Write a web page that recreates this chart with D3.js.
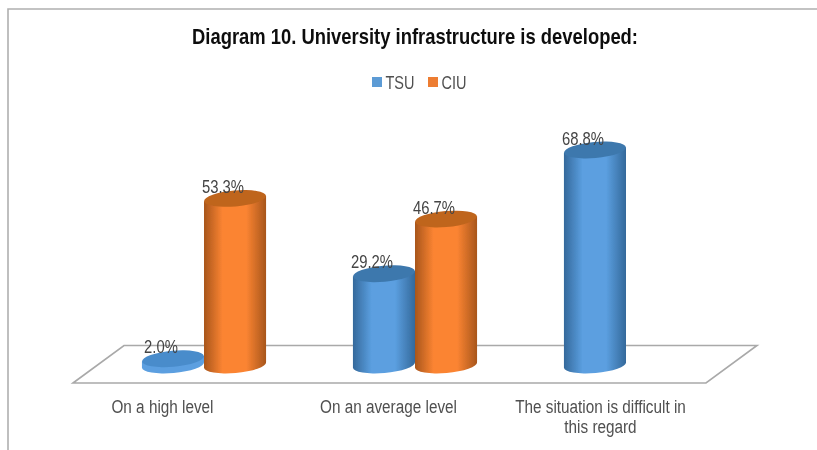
<!DOCTYPE html>
<html><head><meta charset="utf-8">
<script src="https://cdnjs.cloudflare.com/ajax/libs/d3/7.8.5/d3.min.js"></script>
<style>html,body{margin:0;padding:0;background:#fff}svg{display:block}text{font-family:"Liberation Sans",Arial,sans-serif}</style>
</head><body><svg id="c" width="817" height="450"></svg>
<script>
const categories = ["On a high level", "On an average level", "The situation is difficult in this regard"];
const labelLines = [["On a high level"], ["On an average level"], ["The situation is difficult in", "this regard"]];
const seriesNames = ["TSU", "CIU"];
const tsu = [2.0, 29.2, 68.8];
const ciu = [53.3, 46.7, null];
const palette = {TSU:{base:"#5b9fe0",dark:"#34699b",top:"#3e78ad",small:"#4a8ccb",legend:"#5b9bd5"},CIU:{base:"#fb8432",dark:"#a8561c",top:"#bf651f",small:"#fb8432",legend:"#ed7d31"}};

const svg = d3.select("#c");
const defs = svg.append("defs");
defs.append("filter").attr("id","soft").append("feGaussianBlur").attr("stdDeviation",0.5);
seriesNames.forEach(n=>{
  const g = defs.append("linearGradient").attr("id","g"+n);
  [[0,palette[n].dark],[.3,palette[n].base],[.68,palette[n].base],[1,palette[n].dark]].forEach(([o,c])=>g.append("stop").attr("offset",o).attr("stop-color",c));
});
const root = svg.append("g").attr("filter","url(#soft)");

const y = d3.scaleLinear().domain([0,68.8]).range([365,150]);
const x0 = d3.scaleBand().domain(categories).range([98.5,731.5]).padding(0);
const x1 = d3.scaleBand().domain(seriesNames).range([0,x0.bandwidth()]).paddingInner(0).paddingOuter(0.7);
const xLabel = d3.scaleBand().domain(categories).range([73,706]);
const labelNudge = [-16,-1,0];

// frame: top and left edges only
root.append("path").attr("d","M8 450V9H817").attr("fill","none").attr("stroke","#b0b0b0").attr("stroke-width",1.6);
// floor
root.append("path").attr("d","M73 383L124 345.5H757L706 383Z").attr("fill","#fff").attr("stroke","#a9a9a9").attr("stroke-width",1.6);

// title
root.append("text").attr("x",415).attr("y",44).attr("text-anchor","middle").attr("font-size",22).attr("font-weight",700).attr("fill","#111").attr("textLength",446).attr("lengthAdjust","spacingAndGlyphs").text("Diagram 10. University infrastructure is developed:");
// legend
const legendX = d3.scalePoint().domain(seriesNames).range([372,428]);
seriesNames.forEach(n=>{
  root.append("rect").attr("x",legendX(n)).attr("y",77).attr("width",10).attr("height",10).attr("fill",palette[n].legend);
  root.append("text").attr("x",legendX(n)+13.5).attr("y",89).attr("font-size",19).attr("fill","#505050").attr("textLength",n==="TSU"?29:25).attr("lengthAdjust","spacingAndGlyphs").text(n);
});

// bars
const tilt = -5;
const labels = [];
function drawBar(n,cat,v){
  if(v==null) return;
  const left = x0(cat)+x1(n), w = x1.bandwidth(), cx = left+w/2, r = w/2, ry = 8;
  const yb = y(0), yt = y(v);
  const dy = r*Math.sin(-tilt*Math.PI/180);
  const g = root.append("g");
  g.append("path").attr("d",`M${left} ${yt+dy}L${left} ${yb+dy}A${r} ${ry} ${tilt} 0 0 ${left+w} ${yb-dy}L${left+w} ${yt-dy}Z`).attr("fill",v>3?`url(#g${n})`:palette[n].base);
  g.append("ellipse").attr("transform",`rotate(${tilt} ${cx} ${yt})`).attr("cx",cx).attr("cy",yt).attr("rx",r).attr("ry",ry).attr("fill",v>3?palette[n].top:palette[n].small);
  labels.push({x:cx-12,y:yt-5.5,t:v.toFixed(1)+"%"});
}
categories.forEach((c,i)=>{ drawBar("TSU",c,tsu[i]); drawBar("CIU",c,ciu[i]); });
labels.forEach(l=>{
  const tx = root.append("text").attr("x",l.x).attr("y",l.y).attr("text-anchor","middle").attr("font-size",19).attr("fill","#444").text(l.t);
  tx.attr("textLength",tx.node().getComputedTextLength()*0.78).attr("lengthAdjust","spacingAndGlyphs");
});

// category labels
categories.forEach((c,i)=>{
  labelLines[i].forEach((t,j)=>{
    const tx = root.append("text").attr("x",xLabel(c)+xLabel.bandwidth()/2+labelNudge[i]).attr("y",413+j*20).attr("text-anchor","middle").attr("font-size",18).attr("fill","#505050").text(t);
    tx.attr("textLength",tx.node().getComputedTextLength()*0.85).attr("lengthAdjust","spacingAndGlyphs");
  });
});
</script></body></html>
